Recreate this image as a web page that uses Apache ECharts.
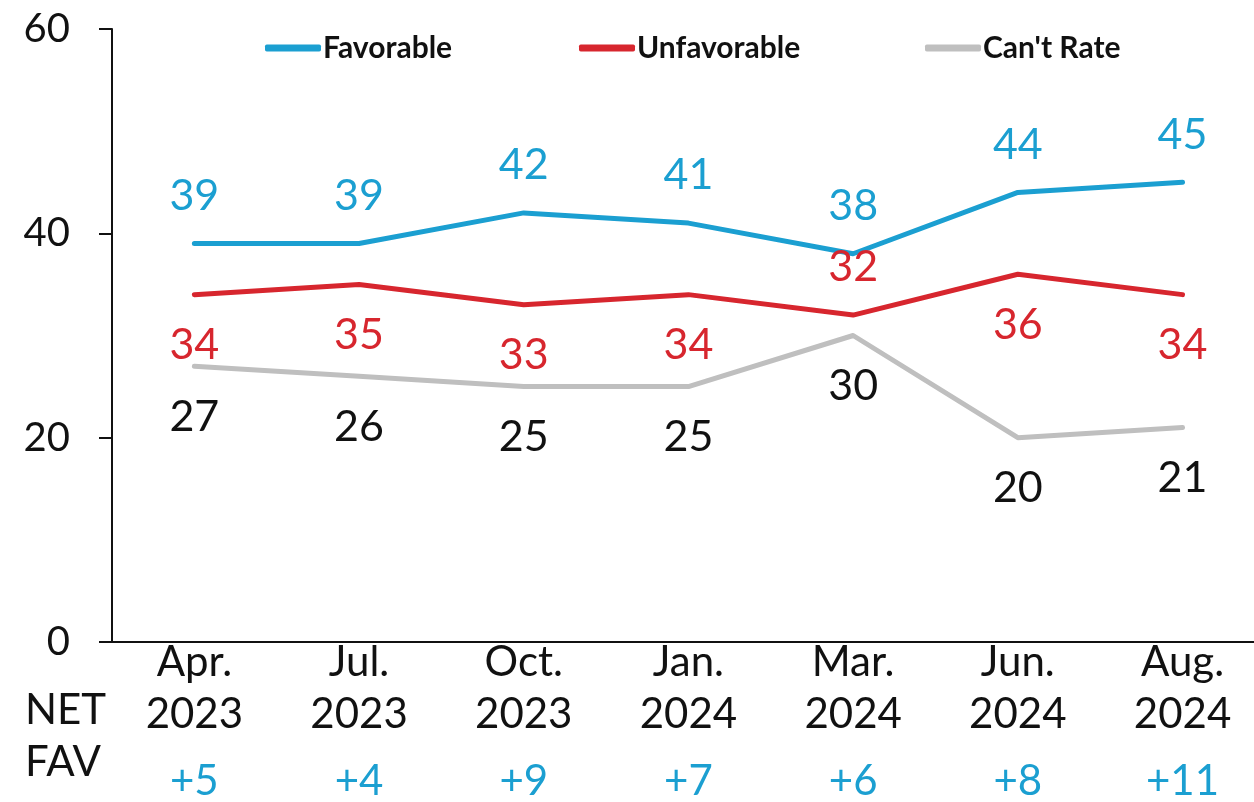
<!DOCTYPE html>
<html>
<head>
<meta charset="utf-8">
<script src="https://cdn.jsdelivr.net/npm/echarts@6/dist/echarts.min.js"></script>
<style>
  html, body { margin: 0; padding: 0; background: #fff; }
  #chart { width: 1254px; height: 802px; }
</style>
</head>
<body>
<div id="chart"></div>
<script>
// survey waves
const waves = ['Apr.\n2023', 'Jul.\n2023', 'Oct.\n2023', 'Jan.\n2024', 'Mar.\n2024', 'Jun.\n2024', 'Aug.\n2024']
const favorable = [39, 39, 42, 41, 38, 44, 45]
const unfavorable = [34, 35, 33, 34, 32, 36, 34]
const cantRate = [27, 26, 25, 25, 30, 20, 21]
const netFav = ['+5', '+4', '+9', '+7', '+6', '+8', '+11']
const yTicks = [0, 20, 40, 60]
const seriesNames = ['Favorable', 'Unfavorable', "Can't Rate"]

const FONT = 'Lato, "Noto Sans", sans-serif'
const BLUE = '#1b9fd1'
const RED = '#d7262e'
const GREY = '#bfbfbf'

// the last wave sits close to the right edge, the plot runs past the canvas
const X_MIN = -0.5
const X_MAX = 6.434
const waveIdx = waves.map((w, i) => i)

const chart = echarts.init(document.getElementById('chart'))

function lineSeries(name, data, color, labelColor, labelPos) {
  return {
    name: name,
    type: 'line',
    data: data.map((v, i) => {
      const pos = labelPos(i)
      return { value: [i, v], label: { position: pos, distance: pos === 'top' ? 47 : 50 } }
    }),
    symbol: 'circle',
    symbolSize: 1,
    itemStyle: { color: color },
    lineStyle: { color: color, width: 5, cap: 'round', join: 'round' },
    label: {
      show: true,
      color: labelColor,
      fontFamily: FONT,
      fontSize: 43,
      verticalAlign: 'middle',
      formatter: p => p.value[1]
    },
    animation: false
  }
}

// one legend per entry so each sits where the original puts it
const legendLeft = [265, 579, 925]
const legends = seriesNames.map((n, i) => ({
  left: legendLeft[i],
  top: 33,
  padding: 0,
  icon: 'roundRect',
  itemWidth: 56,
  itemHeight: 7,
  textStyle: { fontFamily: FONT, fontSize: 30, fontWeight: 'bold', color: '#111', padding: [0, 0, 0, -3] },
  data: [n]
}))

chart.setOption({
  textStyle: { fontFamily: FONT },
  grid: { left: 112, right: 0, top: 29, bottom: 160, containLabel: false },
  legend: legends,
  xAxis: [
    {
      type: 'value',
      min: X_MIN,
      max: X_MAX,
      splitLine: { show: false },
      axisLine: { show: true, onZero: false, lineStyle: { color: '#111', width: 2 } },
      axisTick: { show: false },
      axisLabel: {
        customValues: waveIdx,
        formatter: v => waves[v],
        color: '#111', fontSize: 42, lineHeight: 52, margin: -6
      }
    },
    {
      type: 'value',
      min: X_MIN,
      max: X_MAX,
      position: 'bottom',
      offset: 0,
      splitLine: { show: false },
      axisLine: { show: false },
      axisTick: { show: false },
      axisLabel: {
        customValues: waveIdx,
        formatter: v => netFav[v],
        color: BLUE, fontSize: 42, lineHeight: 42, margin: 118
      }
    }
  ],
  yAxis: {
    type: 'value',
    min: yTicks[0],
    max: yTicks[yTicks.length - 1],
    interval: 20,
    splitLine: { show: false },
    axisLine: { show: true, onZero: false, lineStyle: { color: '#111', width: 2 } },
    axisTick: { show: true, length: 13, lineStyle: { color: '#111', width: 2 } },
    axisLabel: { color: '#111', fontSize: 40, margin: 42 }
  },
  graphic: [
    {
      type: 'text',
      left: 25,
      top: 684,
      style: { text: 'NET\nFAV', fontFamily: FONT, fontSize: 42, lineHeight: 52, fill: '#111' }
    }
  ],
  series: [
    lineSeries(seriesNames[0], favorable, BLUE, BLUE, () => 'top'),
    lineSeries(seriesNames[1], unfavorable, RED, RED, i => (i === 4 ? 'top' : 'bottom')),
    lineSeries(seriesNames[2], cantRate, GREY, '#111', () => 'bottom')
  ]
})
</script>
</body>
</html>
